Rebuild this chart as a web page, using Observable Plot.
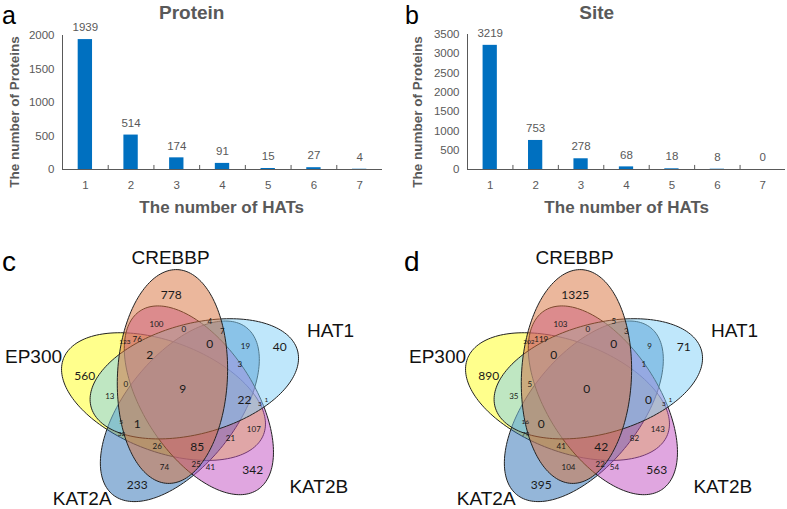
<!DOCTYPE html>
<html><head><meta charset="utf-8">
<script src="https://cdn.jsdelivr.net/npm/d3@7"></script>
<script src="https://cdn.jsdelivr.net/npm/@observablehq/plot@0.6"></script>
<style>
body{margin:0;background:#fff;}
#fig{position:relative;width:787px;height:509px;overflow:hidden;font-family:"Liberation Sans",Arial,sans-serif;}
#fig > div.p{position:absolute;}
.letter{position:absolute;font-size:28px;line-height:22px;color:#000;}
.t{position:absolute;font-weight:bold;color:#595959;white-space:nowrap;transform:translate(-50%,-50%);line-height:1;}
.yt{position:absolute;font-weight:bold;color:#595959;white-space:nowrap;transform:translate(-50%,-50%) rotate(-90deg);line-height:1;font-size:13.5px;}
</style>
</head><body>
<div id="fig"></div>
<script>
// ---------- data ----------
const hatCounts = [1, 2, 3, 4, 5, 6, 7];
const proteinValues = [1939, 514, 174, 91, 15, 27, 4];
const siteValues = [3219, 753, 278, 68, 18, 8, 0];
const proteinTicks = [0, 500, 1000, 1500, 2000];
const siteTicks = [0, 500, 1000, 1500, 2000, 2500, 3000, 3500];

const vennSets = ["CREBBP", "HAT1", "KAT2B", "KAT2A", "EP300"];
// region counts (same region order in both diagrams)
const vennProtein = [778, 100, 0, 4, 7, 0, 19, 40, 123, 76, 2, 3, 560, 0, 9, 13, 22, 3, 1, 5, 1, 32, 107, 21, 26, 85, 74, 25, 41, 342, 233];
const vennSite = [1325, 103, 0, 5, 3, 0, 9, 71, 202, 119, 0, 1, 890, 5, 0, 35, 0, 3, 1, 16, 0, 79, 143, 82, 41, 42, 104, 22, 54, 563, 395];

// ---------- layout / style ----------
const vennFill = {CREBBP: "#d8703a", HAT1: "#7fd0f7", KAT2B: "#c24ec2", KAT2A: "#2a6db3", EP300: "#ffff1a"};
const drawOrder = ["EP300", "KAT2A", "KAT2B", "HAT1", "CREBBP"];
// label positions of regions for panel c (figure px), size class
const regionLayout = [
  [170.7, 295, "M"], [156, 324, "S"], [183.3, 329.3, "S"], [209.3, 320.7, "S"], [221.7, 331, "S"],
  [209.3, 343.3, "M"], [245, 346, "S"], [279.3, 346.7, "M"], [124.3, 341.7, "T"], [136.7, 338.7, "S"],
  [149.3, 355, "M"], [239.3, 364.3, "S"], [84.3, 375.7, "M"], [125.3, 384.3, "S"], [182.3, 389, "M"],
  [109.3, 396, "S"], [244, 400, "M"], [259.3, 403.3, "T"], [266, 399, "T"], [120.7, 421.7, "T"],
  [136.7, 424, "M"], [121, 433.3, "T"], [253.3, 429.3, "S"], [230, 438.3, "S"], [156.7, 445.7, "S"],
  [196.7, 446.7, "M"], [164, 466.7, "S"], [195.7, 464.3, "S"], [210, 466.7, "S"], [252.3, 470, "M"],
  [136.7, 484.3, "M"]
];
const setLabelLayout = {CREBBP: [170, 257.3], HAT1: [330, 330], EP300: [33, 356.7], KAT2A: [81.7, 498.3], KAT2B: [318.3, 486.7]};
const panelShift = 404;
const vennCenter = [181.3, 392.2];
const ell = {r: 18.7, base: 120, axis: 87.3, a: 107, b: 55};

const fig = document.getElementById("fig");
function add(html) { fig.insertAdjacentHTML("beforeend", html); }

function barChart(values, ticks, w, ml, mr, mt, mb) {
  const data = hatCounts.map((k, i) => ({k, v: values[i]}));
  const yMax = ticks[ticks.length - 1];
  const bounds = hatCounts.slice(0, -1).map(k => k + 0.5);
  return Plot.plot({
    width: w, height: 220, marginLeft: ml, marginRight: mr, marginTop: mt, marginBottom: mb,
    style: {fontFamily: "'Liberation Sans', Arial, sans-serif", fontSize: "11.5px", color: "#595959", background: "transparent", overflow: "visible"},
    x: {domain: [0.5, 7.5], ticks: hatCounts, tickSize: 0, tickPadding: 11, label: null, tickFormat: d => String(d)},
    y: {domain: [0, yMax], ticks, tickSize: 0, tickPadding: 8, label: null, tickFormat: d => String(d)},
    marks: [
      Plot.rectY(data, {x1: d => d.k - 0.157, x2: d => d.k + 0.157, y: "v", fill: "#0070C0"}),
      Plot.ruleY([0], {stroke: "#595959"}),
      Plot.ruleX([0.5], {y1: 0, y2: yMax, stroke: "#595959"}),
      Plot.ruleX(bounds, {y1: 0, y2: yMax * 0.03, stroke: "#595959"}),
      Plot.text(data, {x: "k", y: "v", text: d => String(d.v), dy: -12, fill: "#595959", fontSize: 11.5})
    ]
  });
}

const pa = barChart(proteinValues, proteinTicks, 390, 62, 8, 35, 51);
const pb = barChart(siteValues, siteTicks, 397, 77, 2, 34, 51);
const da = document.createElement("div"); da.className = "p"; da.style.left = "0px"; da.style.top = "0px"; da.appendChild(pa); fig.appendChild(da);
const db = document.createElement("div"); db.className = "p"; db.style.left = "390px"; db.style.top = "0px"; db.appendChild(pb); fig.appendChild(db);

// venn
function ellipsePoints(cx0, set) {
  const k = vennSets.indexOf(set);
  const rot = -72 * k;
  const rad = Math.PI / 180;
  const cx = cx0 + ell.r * Math.cos((ell.base + rot) * rad);
  const cy = vennCenter[1] - ell.r * Math.sin((ell.base + rot) * rad);
  const th = (ell.axis + rot) * rad;
  const pts = [];
  for (let t = 0; t < 360; t += 2) {
    const tt = t * rad;
    const X = ell.a * Math.cos(tt) * Math.cos(th) - ell.b * Math.sin(tt) * Math.sin(th);
    const Y = ell.a * Math.cos(tt) * Math.sin(th) + ell.b * Math.sin(tt) * Math.cos(th);
    pts.push({x: cx + X, y: cy - Y});
  }
  return pts;
}

const vennMarks = [];
[0, panelShift].forEach(shift => {
  drawOrder.forEach(s => {
    vennMarks.push(Plot.line(ellipsePoints(vennCenter[0] + shift, s), {x: "x", y: "y", curve: "linear-closed", fill: vennFill[s], fillOpacity: 0.5, stroke: "#222", strokeWidth: 1}));
  });
});
const sizes = {M: 12, S: 8, T: 6.5};
[[vennProtein, 0], [vennSite, panelShift]].forEach(([vals, shift]) => {
  const rows = regionLayout.map((p, i) => ({x: p[0] + shift, y: p[1], c: p[2], v: vals[i]}));
  ["M", "S", "T"].forEach(c => {
    vennMarks.push(Plot.text(rows.filter(r => r.c === c), {x: "x", y: "y", text: d => String(d.v), fontSize: sizes[c], fill: "#1a1a1a", fontFamily: "Lato, 'Liberation Sans', sans-serif"}));
  });
  const labs = vennSets.map(s => ({x: setLabelLayout[s][0] + shift, y: setLabelLayout[s][1], s}));
  vennMarks.push(Plot.text(labs, {x: "x", y: "y", text: "s", fontSize: 19, fill: "#111"}));
});
const pv = Plot.plot({
  width: 787, height: 289, margin: 0,
  style: {fontFamily: "'Liberation Sans', Arial, sans-serif", background: "transparent", overflow: "visible"},
  x: {domain: [0, 787], range: [0, 787], axis: null},
  y: {domain: [220, 509], range: [0, 289], axis: null},
  marks: vennMarks
});
const dv = document.createElement("div"); dv.className = "p"; dv.style.left = "0px"; dv.style.top = "220px"; dv.appendChild(pv); fig.appendChild(dv);

// texts
add(`<div class="letter" style="left:2px;top:3.5px;font-size:25px">a</div>`);
add(`<div class="letter" style="left:405px;top:3.5px;font-size:25px">b</div>`);
add(`<div class="letter" style="left:2px;top:251px">c</div>`);
add(`<div class="letter" style="left:404px;top:251px">d</div>`);
add(`<div class="t" style="left:191.7px;top:12px;font-size:19px">Protein</div>`);
add(`<div class="t" style="left:596.7px;top:12px;font-size:19px">Site</div>`);
add(`<div class="t" style="left:221.7px;top:207px;font-size:17px">The number of HATs</div>`);
add(`<div class="t" style="left:626.7px;top:207px;font-size:17px">The number of HATs</div>`);
add(`<div class="yt" style="left:15px;top:111.7px">The number of Proteins</div>`);
add(`<div class="yt" style="left:418.3px;top:111.7px">The number of Proteins</div>`);
</script>
</body></html>
